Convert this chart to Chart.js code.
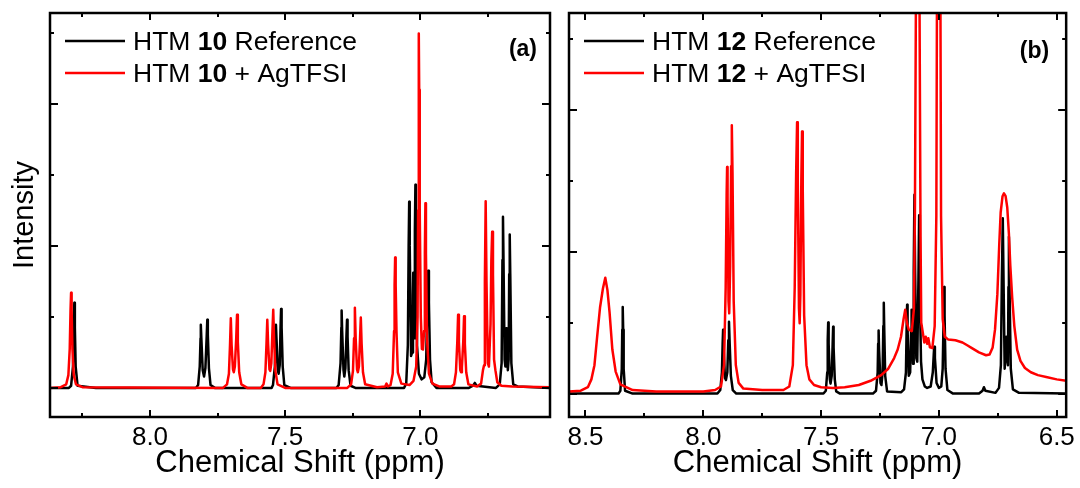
<!DOCTYPE html>
<html>
<head>
<meta charset="utf-8">
<script src="https://cdn.jsdelivr.net/npm/chart.js@4.4.1/dist/chart.umd.min.js"></script>
<style>
  html, body { margin: 0; padding: 0; background: #fff; }
  #wrap { position: relative; width: 1080px; height: 488px; overflow: hidden; }
  canvas { position: absolute; top: 0; }
  #chartA { left: 0; }
  #chartB { left: 560px; }
</style>
</head>
<body>
<div id="wrap">
  <canvas id="chartA" width="560" height="488"></canvas>
  <canvas id="chartB" width="520" height="488"></canvas>
</div>
<script>
// chemical shift (ppm), intensity
const refA = [
  [8.37,0],[8.30,0],[8.292,0.03],[8.285,0.30],[8.282,0.85],[8.280,1.20],[8.278,0.85],[8.275,0.30],[8.268,0.03],[8.20,0],
  [7.83,0],[7.822,0.04],[7.816,0.30],[7.813,0.70],[7.812,0.89],[7.810,0.70],[7.805,0.25],[7.800,0.16],[7.795,0.28],[7.790,0.75],[7.788,0.96],[7.786,0.75],[7.782,0.28],[7.776,0.04],[7.76,0],
  [7.55,0],[7.545,0.04],[7.538,0.30],[7.535,0.70],[7.534,0.89],[7.532,0.70],[7.527,0.25],[7.524,0.20],[7.520,0.32],[7.517,0.85],[7.515,1.11],[7.513,0.85],[7.509,0.30],[7.503,0.04],[7.48,0],
  [7.31,0],[7.302,0.04],[7.295,0.35],[7.292,0.85],[7.291,1.09],[7.289,0.80],[7.284,0.25],[7.281,0.16],[7.277,0.28],[7.273,0.75],[7.271,0.96],[7.269,0.72],[7.265,0.25],[7.258,0.03],[7.24,0],
  [7.06,0],[7.052,0.06],[7.046,0.60],[7.043,2.00],[7.041,2.62],[7.039,2.00],[7.034,0.45],[7.030,0.50],[7.027,1.30],[7.026,1.62],[7.024,1.10],[7.022,0.70],[7.020,2.20],[7.018,2.86],[7.016,2.20],[7.012,0.60],[7.005,0.20],[6.995,0.12],[6.985,0.15],[6.978,0.40],[6.974,1.20],[6.971,1.65],[6.968,1.20],[6.964,0.40],[6.958,0.08],[6.94,0],
  [6.82,0],[6.805,0.03],[6.798,0.07],[6.792,0.03],[6.72,0],
  [6.706,0.05],[6.699,0.35],[6.696,1.80],[6.694,2.41],[6.692,1.80],[6.688,0.40],[6.685,0.30],[6.683,0.70],[6.682,0.84],[6.680,0.60],[6.676,0.25],[6.673,0.40],[6.671,1.60],[6.669,2.16],[6.667,1.60],[6.663,0.35],[6.656,0.05],[6.64,0.02],[6.52,0]
];
const agA = [
  [8.37,0],[8.33,0.01],[8.31,0.05],[8.302,0.18],[8.297,0.55],[8.294,1.10],[8.292,1.34],[8.290,1.10],[8.287,0.55],[8.282,0.18],[8.274,0.05],[8.25,0.01],
  [7.73,0],[7.715,0.05],[7.708,0.20],[7.704,0.60],[7.701,0.98],[7.698,0.60],[7.693,0.26],[7.690,0.22],[7.686,0.30],[7.681,0.70],[7.678,1.03],[7.675,0.65],[7.670,0.22],[7.662,0.05],[7.64,0],
  [7.59,0],[7.580,0.05],[7.573,0.22],[7.569,0.62],[7.566,0.96],[7.563,0.62],[7.558,0.26],[7.555,0.24],[7.551,0.35],[7.547,0.80],[7.544,1.10],[7.541,0.70],[7.536,0.24],[7.528,0.05],[7.50,0],
  [7.27,0],[7.256,0.05],[7.249,0.24],[7.245,0.70],[7.242,1.13],[7.239,0.70],[7.234,0.26],[7.231,0.22],[7.227,0.30],[7.223,0.68],[7.220,0.99],[7.217,0.62],[7.212,0.22],[7.204,0.05],
  [7.16,0.01],[7.13,0.02],[7.125,0.06],[7.12,0.02],[7.11,0.04],[7.102,0.20],[7.097,0.80],[7.095,1.45],[7.093,1.835],[7.091,1.45],[7.088,0.80],[7.083,0.22],[7.070,0.06],[7.040,0.04],
  [7.025,0.10],[7.015,0.30],[7.010,1.00],[7.008,2.50],[7.006,4.20],[7.005,4.99],[7.004,4.20],[7.002,2.50],[6.998,1.00],[6.994,0.55],[6.990,0.54],[6.986,0.80],[6.983,1.90],[6.981,2.60],[6.979,1.90],[6.975,0.70],[6.968,0.20],[6.955,0.06],[6.93,0.02],[6.885,0.02],
  [6.875,0.05],[6.868,0.22],[6.863,0.65],[6.860,1.03],[6.857,0.65],[6.852,0.25],[6.849,0.22],[6.846,0.28],[6.841,0.65],[6.838,1.01],[6.835,0.62],[6.830,0.22],[6.822,0.05],[6.79,0.02],
  [6.775,0.06],[6.768,0.25],[6.764,0.32],[6.761,1.50],[6.758,2.63],[6.755,1.50],[6.750,0.35],[6.746,0.30],[6.740,0.90],[6.737,1.80],[6.734,2.20],[6.731,1.60],[6.727,0.40],[6.722,0.25],[6.715,0.08],[6.70,0.03],[6.66,0.02],[6.52,0.01]
];
const refB = [
  [8.57,0],[8.36,0],[8.352,0.04],[8.346,0.35],[8.344,0.90],[8.342,1.22],[8.340,0.90],[8.338,0.35],[8.332,0.04],[8.30,0],
  [7.94,0],[7.928,0.05],[7.921,0.30],[7.918,0.70],[7.916,0.90],[7.914,0.65],[7.908,0.22],[7.904,0.19],[7.898,0.30],[7.894,0.75],[7.891,1.01],[7.888,0.70],[7.883,0.25],[7.875,0.05],[7.86,0],
  [7.49,0],[7.480,0.04],[7.474,0.30],[7.472,0.75],[7.470,1.00],[7.468,0.70],[7.463,0.20],[7.460,0.14],[7.455,0.25],[7.451,0.70],[7.449,0.94],[7.447,0.65],[7.442,0.20],[7.436,0.03],[7.42,0],
  [7.28,0],[7.267,0.04],[7.260,0.30],[7.258,0.70],[7.256,0.89],[7.254,0.62],[7.248,0.15],[7.244,0.12],[7.239,0.30],[7.236,0.95],[7.234,1.28],[7.232,0.90],[7.228,0.25],[7.220,0.03],
  [7.16,0.02],[7.148,0.06],[7.140,0.30],[7.137,0.95],[7.135,1.25],[7.133,0.90],[7.128,0.25],[7.122,0.30],[7.118,0.90],[7.116,1.18],[7.113,0.80],[7.110,0.42],[7.107,1.70],[7.104,2.80],[7.101,1.70],[7.096,0.50],[7.092,0.45],[7.087,1.60],[7.084,2.51],[7.081,1.40],[7.076,0.45],[7.070,0.20],[7.060,0.10],[7.050,0.08],
  [7.035,0.10],[7.026,0.30],[7.022,0.55],[7.020,0.66],[7.017,0.50],[7.010,0.15],[7.000,0.08],[6.990,0.10],[6.984,0.35],[6.980,1.10],[6.978,1.50],[6.976,1.10],[6.972,0.35],[6.964,0.05],[6.94,0],
  [6.83,0],[6.815,0.04],[6.809,0.09],[6.803,0.04],[6.76,0.01],
  [6.745,0.08],[6.737,0.40],[6.733,1.60],[6.729,2.47],[6.725,1.40],[6.721,0.35],[6.717,0.55],[6.714,0.80],[6.711,0.50],[6.707,0.40],[6.705,1.50],[6.703,2.21],[6.700,1.40],[6.695,0.35],[6.686,0.06],[6.66,0.01],[6.46,0]
];
const agB = [
  [8.57,0.03],[8.52,0.04],[8.49,0.09],[8.475,0.20],[8.462,0.40],[8.450,0.82],[8.438,1.22],[8.426,1.48],[8.416,1.63],[8.407,1.46],[8.398,1.15],[8.386,0.62],[8.372,0.31],[8.352,0.13],[8.30,0.05],[8.20,0.03],
  [8.00,0.03],[7.95,0.05],[7.925,0.10],[7.912,0.40],[7.905,1.50],[7.901,2.80],[7.899,3.19],[7.897,2.70],[7.893,1.30],[7.890,1.13],[7.886,1.80],[7.882,3.20],[7.879,3.78],[7.876,3.10],[7.871,1.30],[7.862,0.40],[7.850,0.15],[7.83,0.07],[7.75,0.05],
  [7.66,0.05],[7.635,0.10],[7.620,0.40],[7.612,1.50],[7.606,3.10],[7.602,3.82],[7.599,3.00],[7.594,1.20],[7.591,0.99],[7.588,1.40],[7.584,3.00],[7.581,3.69],[7.578,2.90],[7.572,1.10],[7.562,0.40],[7.550,0.20],[7.53,0.12],
  [7.50,0.09],[7.45,0.08],[7.40,0.09],[7.34,0.12],[7.29,0.18],[7.245,0.26],[7.215,0.35],[7.190,0.50],[7.175,0.62],[7.161,0.80],[7.150,1.05],[7.143,1.18],[7.136,1.00],[7.128,0.90],[7.115,0.88],
  [7.106,1.20],[7.102,2.50],[7.097,6.00],[7.090,9.00],[7.083,6.00],[7.078,2.20],[7.075,1.00],[7.068,0.85],[7.062,0.72],[7.056,0.80],[7.050,0.70],[7.045,0.78],[7.038,0.65],[7.028,0.64],
  [7.018,0.95],[7.011,2.50],[7.008,6.00],[7.001,9.00],[6.994,6.00],[6.991,2.50],[6.984,1.05],[6.975,0.80],[6.96,0.76],[6.93,0.75],[6.90,0.72],[6.88,0.68],[6.86,0.64],[6.83,0.58],[6.80,0.54],[6.785,0.55],
  [6.772,0.65],[6.762,0.90],[6.752,1.40],[6.744,2.10],[6.738,2.55],[6.730,2.78],[6.724,2.82],[6.717,2.78],[6.710,2.62],[6.703,2.25],[6.697,1.80],[6.689,1.35],[6.680,0.95],[6.668,0.62],[6.654,0.46],[6.635,0.36],[6.61,0.30],[6.58,0.26],[6.54,0.23],[6.50,0.20],[6.46,0.18]
];

const xTicksA = [8.25, 8.0, 7.75, 7.5, 7.25, 7.0, 6.75];
const xTicksB = [8.5, 8.25, 8.0, 7.75, 7.5, 7.25, 7.0, 6.75, 6.5];
const yTicks = [0, 1, 2, 3, 4, 5];
const compounds = ['10', '12'];
const tags = ['(a)', '(b)'];

const FONT = "'Liberation Sans', Arial, Helvetica, sans-serif";
const isHalf = v => Math.abs(v * 2 - Math.round(v * 2)) < 1e-6;

const framePlugin = {
  id: 'frame',
  afterDraw(chart, args, o) {
    const { ctx, chartArea: a, scales: { x, y } } = chart;
    ctx.save();
    ctx.strokeStyle = '#000';
    ctx.lineWidth = 2;
    ctx.beginPath();
    x.ticks.forEach(t => {
      const px = Math.round(x.getPixelForValue(t.value));
      const len = isHalf(t.value) ? 7 : 4;
      ctx.moveTo(px, a.bottom); ctx.lineTo(px, a.bottom - len);
      ctx.moveTo(px, a.top); ctx.lineTo(px, a.top + len);
    });
    y.ticks.forEach(t => {
      const py = Math.round(y.getPixelForValue(t.value));
      const len = t.value % 2 === 0 ? 8 : 4;
      ctx.moveTo(a.left, py); ctx.lineTo(a.left + len, py);
      ctx.moveTo(a.right, py); ctx.lineTo(a.right - len, py);
    });
    ctx.stroke();
    ctx.lineWidth = 2.5;
    ctx.strokeRect(a.left, a.top, a.right - a.left, a.bottom - a.top);

    // legend with bold compound number
    o.rows.forEach((row, i) => {
      const ly = [41, 73][i], by = [50, 82][i];
      ctx.strokeStyle = row.color;
      ctx.lineWidth = 2.5;
      ctx.beginPath();
      ctx.moveTo(a.left + 15, ly); ctx.lineTo(a.left + 75, ly);
      ctx.stroke();
      let tx = a.left + 83;
      ctx.fillStyle = '#000';
      ctx.textBaseline = 'alphabetic';
      ctx.textAlign = 'left';
      row.parts.forEach(([txt, bold]) => {
        ctx.font = (bold ? 'bold ' : '') + '26.5px ' + FONT;
        ctx.fillText(txt, tx, by);
        tx += ctx.measureText(txt).width;
      });
    });
    ctx.font = 'bold 23px ' + FONT;
    ctx.textAlign = 'right';
    ctx.fillText(o.tag, a.right - o.tagRight, o.tagBase);
    ctx.restore();
  }
};

function makeChart(id, ref, ag, p) {
  return new Chart(document.getElementById(id), {
    type: 'line',
    data: {
      datasets: [
        { data: ag.map(([x, y]) => ({ x, y })), borderColor: '#ff0000', borderWidth: 2.5, pointRadius: 0, tension: 0, borderJoinStyle: 'round', clip: 0 },
        { data: ref.map(([x, y]) => ({ x, y })), borderColor: '#000000', borderWidth: 2.5, pointRadius: 0, tension: 0, borderJoinStyle: 'round', clip: 0 }
      ]
    },
    options: {
      responsive: false,
      animation: false,
      events: [],
      layout: { padding: { top: 13, right: 10, left: 0, bottom: 0 } },
      plugins: {
        legend: { display: false },
        tooltip: { enabled: false },
        frame: {
          tag: p.tag, tagRight: p.tagRight, tagBase: p.tagBase,
          rows: [
            { color: '#000', parts: [['HTM ', false], [p.comp, true], [' Reference', false]] },
            { color: '#ff0000', parts: [['HTM ', false], [p.comp, true], [' + AgTFSI', false]] }
          ]
        }
      },
      scales: {
        x: {
          type: 'linear', reverse: true, min: p.xmin, max: p.xmax,
          grid: { display: false, drawTicks: false }, border: { display: false },
          afterBuildTicks: s => { s.ticks = p.xTicks.map(v => ({ value: v })); },
          afterFit: s => { s.height = 71; },
          ticks: {
            autoSkip: false, maxRotation: 0, padding: 5, color: '#000',
            font: { family: FONT, size: 26 },
            callback: v => isHalf(v) ? v.toFixed(1) : ''
          },
          title: { display: true, text: 'Chemical Shift (ppm)', color: '#000', font: { family: FONT, size: 31 }, padding: { top: 0, bottom: 6 } }
        },
        y: {
          min: p.ymin, max: p.ymax,
          grid: { display: false, drawTicks: false }, border: { display: false },
          afterBuildTicks: s => { s.ticks = yTicks.map(v => ({ value: v })); },
          afterFit: s => { s.width = p.yWidth; },
          ticks: { display: false },
          title: { display: p.yTitle, text: 'Intensity', color: '#000', font: { family: FONT, size: 29 }, padding: { top: 8, bottom: 0 } }
        }
      }
    },
    plugins: [framePlugin]
  });
}

makeChart('chartA', refA, agA, {
  comp: compounds[0], tag: tags[0], tagRight: 13, tagBase: 56,
  xmin: 6.52, xmax: 8.37, xTicks: xTicksA, ymin: -0.41, ymax: 5.28, yWidth: 50, yTitle: true
});
makeChart('chartB', refB, agB, {
  comp: compounds[1], tag: tags[1], tagRight: 17, tagBase: 58,
  xmin: 6.46, xmax: 8.57, xTicks: xTicksB, ymin: -0.33, ymax: 5.36, yWidth: 9, yTitle: false
});
</script>
</body>
</html>
